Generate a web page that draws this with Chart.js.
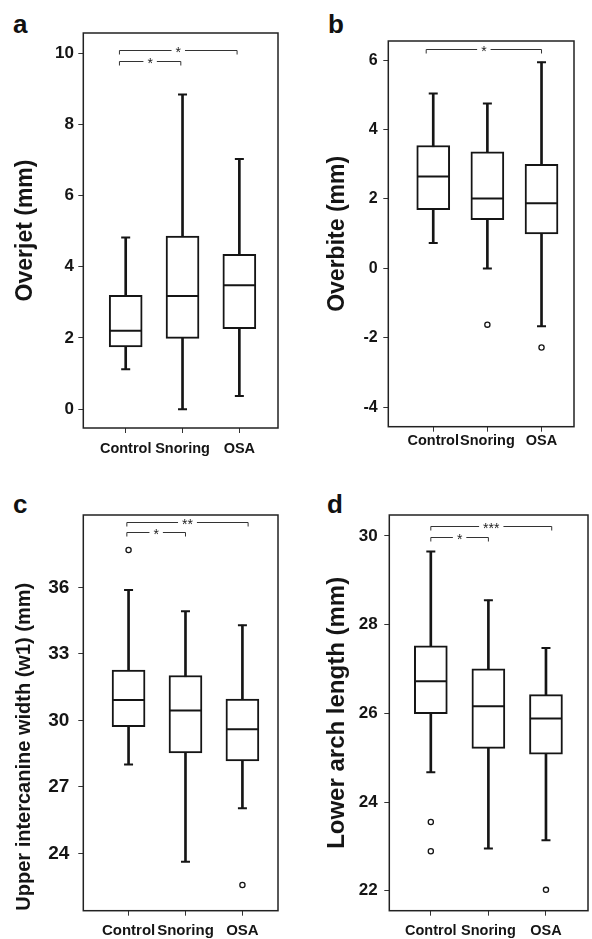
<!DOCTYPE html>
<html lang="en">
<head>
<meta charset="utf-8">
<title>Overjet, overbite, intercanine width and arch length</title>
<script src="https://cdn.jsdelivr.net/npm/chart.js"></script>
<style>
  html, body { margin: 0; padding: 0; background: #fff; }
  body { width: 592px; height: 939px; position: relative; overflow: hidden; }
  .panel { position: absolute; }
  .letter { position: absolute; font: bold 26px "Liberation Sans", Arial, sans-serif; line-height: 1; color: #111; }
</style>
</head>
<body>
<div class="letter" style="left:13px; top:11px;">a</div>
<div class="letter" style="left:328px; top:11px;">b</div>
<div class="letter" style="left:13px; top:491px;">c</div>
<div class="letter" style="left:327px; top:491px;">d</div>

<div class="panel" style="left:0; top:0;"><canvas id="chartA" width="296" height="470"></canvas></div>
<div class="panel" style="left:296px; top:0;"><canvas id="chartB" width="296" height="470"></canvas></div>
<div class="panel" style="left:0; top:470px;"><canvas id="chartC" width="296" height="469"></canvas></div>
<div class="panel" style="left:296px; top:470px;"><canvas id="chartD" width="310" height="469"></canvas></div>

<script>
const groups = ['Control', 'Snoring', 'OSA'];

// a - overjet
const overjetMin = [1.12, 0, 0.37];
const overjetQ1 = [1.75, 1.99, 2.26];
const overjetMedian = [2.2, 3.18, 3.48];
const overjetQ3 = [3.2, 4.86, 4.35];
const overjetMax = [4.82, 8.84, 7.03];
const overjetOutGroup = [];
const overjetOutValue = [];
const overjetTicks = [0, 2, 4, 6, 8, 10];
const overjetSigFrom = [0.89, 0.89];
const overjetSigTo = [2.96, 1.97];
const overjetSigAt = [10.1, 9.78];
const overjetSigText = ['*', '*'];

// b - overbite
const overbiteMin = [0.73, 0, -1.67];
const overbiteQ1 = [1.69, 1.4, 0.99];
const overbiteMedian = [2.65, 2.01, 1.88];
const overbiteQ3 = [3.54, 3.36, 3.0];
const overbiteMax = [5.04, 4.75, 5.94];
const overbiteOutGroup = [2, 3];
const overbiteOutValue = [-1.62, -2.28];
const overbiteTicks = [-4, -2, 0, 2, 4, 6];
const overbiteSigFrom = [0.87];
const overbiteSigTo = [3.0];
const overbiteSigAt = [6.33];
const overbiteSigText = ['*'];

// c - upper intercanine width
const intercanineMin = [28.0, 23.62, 26.03];
const intercanineQ1 = [29.71, 28.53, 28.17];
const intercanineMedian = [30.92, 30.44, 29.59];
const intercanineQ3 = [32.26, 32.02, 30.96];
const intercanineMax = [35.88, 34.92, 34.29];
const intercanineOutGroup = [1, 3];
const intercanineOutValue = [37.68, 22.57];
const intercanineTicks = [24, 27, 30, 33, 36];
const intercanineSigFrom = [0.97, 0.97];
const intercanineSigTo = [3.1, 2.0];
const intercanineSigAt = [38.93, 38.48];
const intercanineSigText = ['**', '*'];

// d - lower arch length
const archMin = [24.67, 22.95, 23.14];
const archQ1 = [25.99, 25.21, 25.08];
const archMedian = [26.72, 26.16, 25.88];
const archQ3 = [27.52, 27.0, 26.42];
const archMax = [29.65, 28.55, 27.47];
const archOutGroup = [1, 1, 3];
const archOutValue = [23.55, 22.89, 22.02];
const archTicks = [22, 24, 26, 28, 30];
const archSigFrom = [1.0, 1.0];
const archSigTo = [3.1, 2.0];
const archSigAt = [30.23, 29.98];
const archSigText = ['***', '*'];

const FONT = '"Liberation Sans", Arial, Helvetica, sans-serif';
const INK = '#151515';

// frame around the plot area and the significance brackets
const framePlugin = {
    id: 'frame',
    afterDatasetsDraw(chart) {
        const a = chart.chartArea;
        const ctx = chart.ctx;
        ctx.save();
        ctx.strokeStyle = '#222';
        ctx.lineWidth = 1.5;
        ctx.strokeRect(a.left, a.top, a.right - a.left, a.bottom - a.top);

        const sig = chart.options.plugins.sig;
        const xs = chart.scales.x, ys = chart.scales.y;
        ctx.lineWidth = 1;
        ctx.strokeStyle = '#333';
        ctx.fillStyle = '#222';
        ctx.font = '14px ' + FONT;
        ctx.textAlign = 'center';
        ctx.textBaseline = 'middle';
        sig.from.forEach((f, i) => {
            const x1 = xs.getPixelForValue(f);
            const x2 = xs.getPixelForValue(sig.to[i]);
            const y = Math.round(ys.getPixelForValue(sig.at[i])) + 0.5;
            const xm = (x1 + x2) / 2;
            const half = ctx.measureText(sig.text[i]).width / 2 + 4;
            ctx.beginPath();
            ctx.moveTo(x1, y + 4);
            ctx.lineTo(x1, y);
            ctx.lineTo(xm - half, y);
            ctx.moveTo(xm + half, y);
            ctx.lineTo(x2, y);
            ctx.lineTo(x2, y + 4);
            ctx.stroke();
            ctx.fillText(sig.text[i], xm, y + 3);
        });
        ctx.restore();
    }
};

function boxChart(id, d) {
    const boxes = groups.map((g, i) => ({x: i + 1, y: [d.q1[i], d.q3[i]]}));
    const whiskers = groups.map((g, i) => ({x: i + 1, y: [d.min[i], d.max[i]]}));
    const medians = groups.map((g, i) => ({x: i + 1, y: d.median[i]}));
    const caps = [];
    groups.forEach((g, i) => {
        caps.push({x: i + 1, y: d.min[i]});
        caps.push({x: i + 1, y: d.max[i]});
    });
    const outliers = d.outGroup.map((g, k) => ({x: g, y: d.outValue[k]}));

    return new Chart(document.getElementById(id), {
        type: 'bar',
        data: {
            datasets: [
                {
                    data: whiskers, grouped: false, order: 5,
                    backgroundColor: INK, borderWidth: 0,
                    maxBarThickness: 2, barPercentage: 1, categoryPercentage: 1
                },
                {
                    data: boxes, grouped: false, order: 4,
                    backgroundColor: '#fff', borderColor: INK, borderWidth: 2, borderSkipped: false,
                    maxBarThickness: 33, barPercentage: 1, categoryPercentage: 1
                },
                {
                    type: 'scatter', data: medians, order: 3,
                    pointStyle: 'line', pointRadius: 16, borderColor: INK, borderWidth: 2
                },
                {
                    type: 'scatter', data: caps, order: 3,
                    pointStyle: 'line', pointRadius: 4.5, borderColor: INK, borderWidth: 2
                },
                {
                    type: 'scatter', data: outliers, order: 2,
                    pointStyle: 'circle', pointRadius: 2.6, backgroundColor: '#fff',
                    borderColor: INK, borderWidth: 1.3
                }
            ]
        },
        options: {
            responsive: false,
            animation: false,
            events: [],
            layout: {padding: {top: d.top, right: d.right, left: 0, bottom: 0}},
            plugins: {
                legend: {display: false},
                tooltip: {enabled: false},
                sig: {from: d.sigFrom, to: d.sigTo, at: d.sigAt, text: d.sigText}
            },
            scales: {
                x: {
                    type: 'linear',
                    offset: false,
                    min: d.xMin, max: d.xMax,
                    afterBuildTicks: s => { s.ticks = groups.map((g, i) => ({value: i + 1})); },
                    afterFit: s => { s.height = d.xHeight; },
                    border: {display: false},
                    grid: {offset: false, drawOnChartArea: false, drawTicks: true, tickLength: 5, color: '#333'},
                    ticks: {
                        callback: v => groups[v - 1],
                        color: INK, padding: d.xPad, maxRotation: 0, autoSkip: false,
                        font: {family: FONT, size: d.xFont || 14.5, weight: 'bold', lineHeight: 1}
                    }
                },
                y: {
                    min: d.yMin, max: d.yMax,
                    afterBuildTicks: s => { s.ticks = d.ticks.map(v => ({value: v})); },
                    afterFit: s => { s.width = d.left; },
                    border: {display: false},
                    grid: {drawOnChartArea: false, drawTicks: true, tickLength: 5, color: '#333'},
                    ticks: {
                        color: INK, padding: d.yPad,
                        font: {family: FONT, size: d.tickFont, weight: 'bold'}
                    },
                    title: {
                        display: true, text: d.title, color: INK,
                        align: d.titleAlign || 'center',
                        padding: {top: d.titlePad, bottom: 0},
                        font: {family: FONT, size: d.titleFont, weight: 'bold', lineHeight: 1}
                    }
                }
            }
        },
        plugins: [framePlugin]
    });
}

boxChart('chartA', {
    min: overjetMin, q1: overjetQ1, median: overjetMedian, q3: overjetQ3, max: overjetMax,
    outGroup: overjetOutGroup, outValue: overjetOutValue, ticks: overjetTicks,
    sigFrom: overjetSigFrom, sigTo: overjetSigTo, sigAt: overjetSigAt, sigText: overjetSigText,
    title: 'Overjet (mm)',
    top: 33, right: 8.7, left: 83.3, xHeight: 42,
    xMin: 0.254, xMax: 3.68, yMin: -0.53, yMax: 10.57,
    tickFont: 17, yPad: 4.3, titleFont: 23, titlePad: 14.5, xPad: 9
});

boxChart('chartB', {
    min: overbiteMin, q1: overbiteQ1, median: overbiteMedian, q3: overbiteQ3, max: overbiteMax,
    outGroup: overbiteOutGroup, outValue: overbiteOutValue, ticks: overbiteTicks,
    sigFrom: overbiteSigFrom, sigTo: overbiteSigTo, sigAt: overbiteSigAt, sigText: overbiteSigText,
    title: 'Overbite (mm)',
    top: 41, right: 6.3, left: 92.3, xHeight: 43.3,
    xMin: 0.17, xMax: 3.6, yMin: -4.56, yMax: 6.55,
    tickFont: 16, yPad: 5.6, titleFont: 23, titlePad: 30.5, xPad: 2
});

boxChart('chartC', {
    min: intercanineMin, q1: intercanineQ1, median: intercanineMedian, q3: intercanineQ3, max: intercanineMax,
    outGroup: intercanineOutGroup, outValue: intercanineOutValue, ticks: intercanineTicks,
    sigFrom: intercanineSigFrom, sigTo: intercanineSigTo, sigAt: intercanineSigAt, sigText: intercanineSigText,
    title: 'Upper intercanine width (w1) (mm)', titleAlign: 'start',
    top: 45, right: 8.7, left: 83.3, xHeight: 28.3,
    xMin: 0.205, xMax: 3.625, yMin: 21.41, yMax: 39.26,
    tickFont: 19, yPad: 9, titleFont: 20, titlePad: 14, xPad: 7.5, xFont: 15
});

boxChart('chartD', {
    min: archMin, q1: archQ1, median: archMedian, q3: archQ3, max: archMax,
    outGroup: archOutGroup, outValue: archOutValue, ticks: archTicks,
    sigFrom: archSigFrom, sigTo: archSigTo, sigAt: archSigAt, sigText: archSigText,
    title: 'Lower arch length (mm)',
    top: 45, right: 6, left: 93.3, xHeight: 28.3,
    xMin: 0.279, xMax: 3.73, yMin: 21.55, yMax: 30.47,
    tickFont: 17, yPad: 6.6, titleFont: 24, titlePad: 29.7, xPad: 8
});
</script>
</body>
</html>
